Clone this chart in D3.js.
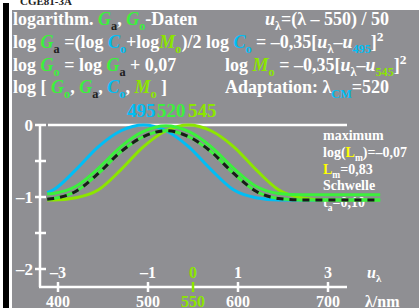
<!DOCTYPE html>
<html>
<head>
<meta charset="utf-8">
<script src="https://d3js.org/d3.v7.min.js"></script>
<style>
  body { margin: 0; background: #fff; }
  text { font-family: "Liberation Serif", "DejaVu Serif", serif; font-weight: bold; }
</style>
</head>
<body>
<script>
// wavelengths (nm) sampled off the picture, and log values of each curve
var lambdas = [388, 395, 420, 445, 470, 495, 520, 545, 570, 595, 620, 645, 670, 695, 720, 745, 758]
var logC  = [-0.94, -0.90, -0.62, -0.30, -0.08, 0.00, -0.08, -0.30, -0.62, -0.90, -1.01, -1.04, -1.04, -1.04, -1.04, -1.04, -1.04]
var logM  = [-1.04, -1.04, -1.01, -0.90, -0.62, -0.30, -0.08, 0.00, -0.08, -0.30, -0.62, -0.90, -1.01, -1.04, -1.04, -1.04, -1.04]
var logGa = [-1.03, -1.02, -0.92, -0.67, -0.37, -0.16, -0.08, -0.16, -0.37, -0.67, -0.92, -1.02, -1.04, -1.04, -1.04, -1.04, -1.04]
var logGo = [-0.96, -0.95, -0.85, -0.60, -0.30, -0.09, -0.01, -0.09, -0.30, -0.60, -0.85, -0.95, -0.97, -0.97, -0.97, -0.97, -0.97]

var lambdaTicks = [400, 500, 550, 600, 700]
var uTicks = [-3, -1, 0, 1, 3]
var yTicks = [0, -0.5, -1, -1.5, -2]
var yLabels = [0, -1, -2]
var peakLabels = ["495", "520", "545"]

var cyan = "#00bef5", green = "#3cf03c", yellowGreen = "#8ce600", yellow = "#ffff00", dark = "#202020"

var svg = d3.select("body").append("svg")
  .attr("width", 419).attr("height", 308)

svg.append("text").attr("x", 20).attr("y", 5)
  .attr("font-size", 11).attr("font-weight", "normal").attr("fill", "#222")
  .text("CGE81-3A")
svg.append("rect").attr("x", 3).attr("y", 3).attr("width", 6).attr("height", 305).attr("fill", "#000")
svg.append("rect").attr("x", 12).attr("y", 10).attr("width", 407).attr("height", 298).attr("fill", "#8f8f93")

// scales
var x = d3.scaleLinear().domain([400, 700]).range([58, 328])
var y = d3.scaleLinear().domain([0, -2]).range([125, 269])
var xu = d3.scaleLinear().domain([-3, 3]).range([58, 328])

// helper: write a line of rich text
function rich(xp, yp, size, parts) {
  var t = svg.append("text").attr("x", xp).attr("y", yp).attr("font-size", size).attr("fill", "#fff")
  parts.forEach(function(p) {
    if (typeof p === "string") p = {t: p}
    var s = t.append("tspan").text(p.t)
    if (p.c) s.attr("fill", p.c)
    if (p.i) s.attr("font-style", "italic")
    if (p.sub) s.attr("font-size", size * 0.68).attr("dy", size * 0.25)
    if (p.sup) s.attr("font-size", size * 0.75).attr("dy", -size * 0.38)
    if (p.back) s.attr("dy", p.back)
  })
  return t
}
var fs = 18, b = -fs * 0.25
rich(13, 25, fs, ["logarithm. ", {t: "G", c: green, i: 1}, {t: "a", sub: 1, c: dark},
  {t: ", ", back: b}, {t: "G", c: green, i: 1}, {t: "o", sub: 1, c: green}, {t: "-Daten", back: b}])
rich(265, 25, fs, [{t: "u", i: 1}, {t: "λ", sub: 1}, {t: "=(λ – 550) / 50", back: b}])
rich(13, 48, fs, ["log ", {t: "G", c: green, i: 1}, {t: "a", sub: 1, c: dark}, {t: " =(log ", back: b},
  {t: "C", c: cyan, i: 1}, {t: "o", sub: 1, c: cyan}, {t: "+log", back: b},
  {t: "M", c: yellowGreen, i: 1}, {t: "o", sub: 1, c: yellowGreen}, {t: ")/2 log ", back: b},
  {t: "C", c: cyan, i: 1}, {t: "o", sub: 1, c: cyan}, {t: " = –0,35[", back: b},
  {t: "u", i: 1}, {t: "λ", sub: 1}, {t: "–", back: b}, {t: "u", i: 1},
  {t: "495", sub: 1, c: cyan}, {t: "]", back: b}, {t: "2", sup: 1}])
rich(13, 71, fs, ["log ", {t: "G", c: green, i: 1}, {t: "o", sub: 1, c: green}, {t: " = log ", back: b},
  {t: "G", c: green, i: 1}, {t: "a", sub: 1, c: dark}, {t: " + 0,07", back: b}])
rich(225, 71, fs, ["log ", {t: "M", c: yellowGreen, i: 1}, {t: "o", sub: 1, c: yellowGreen},
  {t: " = –0,35[", back: b}, {t: "u", i: 1}, {t: "λ", sub: 1}, {t: "–", back: b},
  {t: "u", i: 1}, {t: "545", sub: 1, c: yellowGreen}, {t: "]", back: b}, {t: "2", sup: 1}])
rich(13, 93, fs, ["log [ ", {t: "G", c: green, i: 1}, {t: "o", sub: 1, c: green}, {t: ", ", back: b},
  {t: "G", c: green, i: 1}, {t: "a", sub: 1, c: dark}, {t: ", ", back: b},
  {t: "C", c: cyan, i: 1}, {t: "o", sub: 1, c: cyan}, {t: ", ", back: b},
  {t: "M", c: yellowGreen, i: 1}, {t: "o", sub: 1, c: yellowGreen}, {t: " ]", back: b}])
rich(225, 93, fs, ["Adaptation: λ", {t: "CM", sub: 1, c: cyan}, {t: "=520", back: b}])

// peak labels
svg.selectAll(".pk").data(peakLabels).enter().append("text")
  .attr("x", function(d, i) { return [127, 157, 188][i] }).attr("y", 117)
  .attr("font-size", 19)
  .attr("fill", function(d, i) { return [cyan, green, yellowGreen][i] })
  .text(function(d) { return d })

// right annotation
var fa = 14, ba = -fa * 0.25
rich(323, 140, fa, ["maximum"])
rich(323, 157, fa, ["log(", {t: "L", c: yellow}, {t: "m", sub: 1}, {t: ")=–0,07", back: ba}])
rich(323, 174, fa, [{t: "L", c: yellow}, {t: "m", sub: 1}, {t: "=0,83", back: ba}])
rich(323, 190, fa, ["Schwelle"])
rich(323, 207, fa, ["t", {t: "a", sub: 1}, {t: "=0,10", back: ba}])

// axes
var ax = svg.append("g").attr("stroke", "#fff").attr("stroke-width", 2.5).attr("fill", "none")
ax.append("line").attr("x1", 48).attr("x2", 347).attr("y1", y(0)).attr("y2", y(0))
ax.append("line").attr("x1", 40).attr("x2", 40).attr("y1", y(0) - 1).attr("y2", 287)
ax.append("line").attr("x1", 39).attr("x2", 347).attr("y1", 287).attr("y2", 287)
ax.selectAll(".yt").data(yTicks).enter().append("line")
  .attr("x1", 35).attr("x2", 46).attr("y1", function(d) { return y(d) }).attr("y2", function(d) { return y(d) })
ax.selectAll(".xt").data(lambdaTicks).enter().append("line")
  .attr("x1", function(d) { return x(d) }).attr("x2", function(d) { return x(d) })
  .attr("y1", 282).attr("y2", 292)
  .attr("stroke", function(d) { return d === 550 ? yellowGreen : "#fff" })

svg.selectAll(".yl").data(yLabels).enter().append("text")
  .attr("x", 33).attr("y", function(d) { return y(d) + 6 })
  .attr("text-anchor", "end").attr("font-size", 17).attr("fill", "#fff")
  .text(function(d) { return d === 0 ? "0" : "–" + Math.abs(d) })
svg.selectAll(".ul").data(uTicks).enter().append("text")
  .attr("x", function(d) { return xu(d) }).attr("y", 278)
  .attr("text-anchor", "middle").attr("font-size", 16)
  .attr("fill", function(d) { return d === 0 ? yellowGreen : "#fff" })
  .text(function(d) { return d < 0 ? "–" + Math.abs(d) : d })
svg.selectAll(".ll").data(lambdaTicks).enter().append("text")
  .attr("x", function(d) { return x(d) }).attr("y", 307)
  .attr("text-anchor", "middle").attr("font-size", 16)
  .attr("fill", function(d) { return d === 550 ? yellowGreen : "#fff" })
  .text(function(d) { return d })
rich(367, 278, 16, [{t: "u", i: 1}, {t: "λ", sub: 1}])
rich(365, 307, 16, ["λ/nm"])

// curves
var line = d3.line()
  .x(function(d) { return x(d[0]) })
  .y(function(d) { return y(d[1]) })
  .curve(d3.curveMonotoneX)
function pts(vals) { return lambdas.map(function(l, i) { return [l, vals[i]] }) }
var g = svg.append("g").attr("fill", "none").attr("stroke-width", 3)
g.append("path").attr("d", line(pts(logC))).attr("stroke", cyan)
g.append("path").attr("d", line(pts(logM))).attr("stroke", yellowGreen)
g.append("path").attr("d", line(pts(logGo))).attr("stroke", green)
g.append("path").attr("d", line(pts(logGa))).attr("stroke", green)
g.append("path").attr("d", line(pts(logGa))).attr("stroke", "#1a1a1a").attr("stroke-dasharray", "7,6")
</script>
</body>
</html>
